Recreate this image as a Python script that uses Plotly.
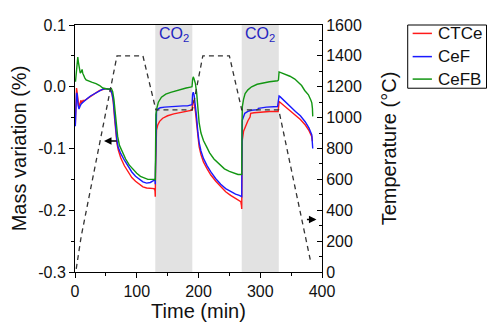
import plotly.graph_objects as go

# ---------------- data ----------------
t_ctce = [0.5, 1.5, 2.5, 3.5, 5, 6.5, 8, 9.5, 11, 13, 16, 20, 25, 30, 35, 40, 45, 50, 55, 58, 60, 62, 64, 66, 68, 70, 74, 80, 86, 92, 98, 104, 110, 116, 122, 128, 129.5, 130,
          130.5, 131, 132, 134, 137, 142, 150, 160, 170, 180, 188, 189.5, 190.5, 191.5, 193, 195, 197, 199, 201, 204, 208, 214, 220, 228, 236, 244, 252, 260, 266, 268.5, 269.5, 270,
          270.5, 271, 273, 275.5, 280, 283.5, 284.5, 290, 300, 315, 329, 330.5, 332, 340, 348, 357, 365, 373, 379, 383.5, 384.5]
m_ctce = [-0.062, -0.03, -0.002, -0.01, -0.028, -0.034, -0.028, -0.022, -0.026, -0.022, -0.022, -0.019, -0.015, -0.012, -0.009, -0.006, -0.004, -0.003, -0.004, -0.006, -0.012, -0.025, -0.05, -0.075, -0.092, -0.102, -0.115, -0.128, -0.138, -0.147, -0.153, -0.158, -0.162, -0.164, -0.165, -0.165, -0.168, -0.178,
          -0.13, -0.085, -0.07, -0.062, -0.056, -0.051, -0.047, -0.044, -0.042, -0.040, -0.039, -0.038, -0.025, -0.022, -0.028, -0.04, -0.06, -0.082, -0.097, -0.11, -0.122, -0.133, -0.143, -0.153, -0.162, -0.170, -0.176, -0.181, -0.184, -0.186, -0.192, -0.198,
          -0.12, -0.086, -0.072, -0.065, -0.055, -0.049, -0.043, -0.042, -0.041, -0.040, -0.040, -0.024, -0.025, -0.032, -0.039, -0.046, -0.053, -0.062, -0.071, -0.081, -0.088]

t_cef = [0.5, 1.5, 2.5, 3.5, 5, 6.5, 8, 10, 13, 16, 20, 25, 30, 35, 40, 45, 50, 55, 58, 60, 62, 64, 66, 68, 70, 74, 80, 86, 92, 98, 104, 110, 116, 122, 127, 129.5, 130,
         130.5, 131, 132, 134, 138, 145, 155, 165, 175, 182, 188, 189.5, 190.5, 191.5, 193, 195, 197, 199, 201, 204, 208, 214, 220, 228, 236, 244, 252, 260, 266, 269.5, 270,
         270.5, 271, 275, 280, 286, 296, 297, 310, 328, 330.5, 332, 340, 348, 357, 365, 373, 379, 383.5, 385]
m_cef = [-0.064, -0.035, -0.010, -0.012, -0.030, -0.036, -0.032, -0.028, -0.025, -0.023, -0.019, -0.015, -0.012, -0.009, -0.006, -0.004, -0.003, -0.004, -0.006, -0.011, -0.022, -0.045, -0.07, -0.088, -0.098, -0.108, -0.119, -0.129, -0.138, -0.145, -0.150, -0.154, -0.156, -0.155, -0.152, -0.150, -0.158,
         -0.1, -0.05, -0.04, -0.036, -0.034, -0.033, -0.032, -0.032, -0.031, -0.031, -0.030, -0.029, -0.012, -0.009, -0.014, -0.03, -0.05, -0.074, -0.09, -0.104, -0.116, -0.128, -0.138, -0.149, -0.158, -0.165, -0.170, -0.174, -0.176, -0.177, -0.178,
         -0.1, -0.054, -0.043, -0.040, -0.038, -0.037, -0.035, -0.033, -0.032, -0.015, -0.016, -0.024, -0.032, -0.040, -0.047, -0.057, -0.067, -0.078, -0.100]

t_cefb = [0.8, 2, 3.5, 4.5, 5.5, 7, 8.5, 10, 11.5, 12.5, 14, 16, 18, 22, 28, 34, 40, 45, 50, 54, 57, 59, 61, 63, 65, 67, 69, 72, 76, 82, 88, 94, 100, 106, 112, 118, 124, 129.5, 130,
          130.5, 131, 132.5, 135, 140, 147, 155, 163, 171, 180, 187, 189.5, 190.5, 191.5, 193, 195, 197, 199, 201, 204, 208, 213, 218, 225, 234, 242, 250, 258, 264, 269.5, 270,
          270.5, 271, 273, 275.5, 280, 286, 295, 302, 315, 328, 329.5, 330.5, 333, 340, 348, 356, 362, 367, 372, 378, 382, 383.5, 384.5, 385]
m_cefb = [0.008, 0.02, 0.04, 0.048, 0.04, 0.025, 0.022, 0.024, 0.028, 0.022, 0.018, 0.014, 0.011, 0.009, 0.007, 0.005, 0.002, -0.002, -0.003, -0.004, -0.003, -0.003, -0.008, -0.02, -0.04, -0.063, -0.08, -0.095, -0.105, -0.117, -0.127, -0.134, -0.140, -0.145, -0.148, -0.150, -0.150, -0.150, -0.152,
          -0.09, -0.045, -0.035, -0.025, -0.017, -0.012, -0.009, -0.0065, -0.004, -0.002, -0.0005, 0.0, 0.012, 0.016, 0.012, 0.005, -0.01, -0.035, -0.058, -0.075, -0.087, -0.097, -0.107, -0.117, -0.126, -0.133, -0.137, -0.140, -0.142, -0.142, -0.143,
          -0.06, -0.032, -0.02, -0.011, -0.005, 0.0, 0.004, 0.0055, 0.008, 0.0097, 0.011, 0.024, 0.023, 0.021, 0.017, 0.0125, 0.007, 0.002, -0.006, -0.013, -0.022, -0.026, -0.035, -0.048]

t_temp = [2, 10, 68, 110, 131, 190, 207, 250, 270, 330, 382]
temp = [20, 230, 1400, 1400, 1050, 1050, 1400, 1400, 1050, 1050, 60]

series_names = ["CTCe", "CeF", "CeFB"]
series_colors = ["#ff1a1a", "#1a1aff", "#129612"]
co2_windows = [(130, 190), (270, 330)]
x_ticks = [0, 100, 200, 300, 400]
y_ticks = [-0.3, -0.2, -0.1, 0.0, 0.1]
y_ticktext = ["-0.3", "-0.2", "-0.1", "0.0", "0.1"]
y2_ticks = [0, 200, 400, 600, 800, 1000, 1200, 1400, 1600]

FONT = "Arial, Liberation Sans, sans-serif"

fig = go.Figure()
for name, color, tx, my in zip(series_names, series_colors,
                               [t_ctce, t_cef, t_cefb], [m_ctce, m_cef, m_cefb]):
    fig.add_trace(go.Scatter(x=tx, y=my, mode="lines", name=name, showlegend=False,
                             line=dict(color=color, width=1.4)))
fig.add_trace(go.Scatter(x=t_temp, y=temp, mode="lines", yaxis="y2", showlegend=False,
                         name="Temperature",
                         line=dict(color="#333333", width=1.3, dash="5px,4px")))

for x0, x1 in co2_windows:
    fig.add_shape(type="rect", xref="x", yref="paper", x0=x0, x1=x1, y0=0, y1=1,
                  fillcolor="#e2e2e2", line=dict(width=0), layer="below")
    fig.add_annotation(x=(x0 + x1) / 2, y=1.0, xref="x", yref="paper", yanchor="top",
                       yshift=2, text="CO<sub>2</sub>", showarrow=False,
                       font=dict(family=FONT, size=16, color="#2525c0"))

# arrows pointing to the axes
fig.add_annotation(x=47, y=-0.088, xref="x", yref="y", ax=14, ay=0, text="",
                   showarrow=True, arrowhead=2, arrowsize=1, arrowwidth=1.5, arrowcolor="black")
fig.add_annotation(x=391, y=340, xref="x", yref="y2", ax=-11, ay=0, text="",
                   showarrow=True, arrowhead=2, arrowsize=1, arrowwidth=1.5, arrowcolor="black")

# legend box (paper coordinates, outside the plot area on the right)
fig.add_shape(type="rect", xref="paper", yref="paper", x0=1.347, x1=1.666, y0=0.744, y1=1.0,
              line=dict(color="black", width=1), fillcolor="white")
legend_y = [0.966, 0.872, 0.781]
for name, color, ly in zip(series_names, series_colors, legend_y):
    fig.add_shape(type="line", xref="paper", yref="paper", x0=1.367, x1=1.445, y0=ly, y1=ly,
                  line=dict(color=color, width=1.5))
    fig.add_annotation(x=1.462, y=ly, xref="paper", yref="paper", xanchor="left", yanchor="middle",
                       text=name, showarrow=False,
                       font=dict(family=FONT, size=17, color="#111"))

axis_common = dict(showline=True, linecolor="black", linewidth=1, showgrid=False, zeroline=False,
                   tickfont=dict(family=FONT, size=16, color="#111"), ticklen=5, tickcolor="black")

fig.update_layout(
    width=488, height=324,
    margin=dict(l=75, r=166, t=25, b=52, autoexpand=False),
    paper_bgcolor="white", plot_bgcolor="white",
    font=dict(family=FONT, color="#111"),
    showlegend=False,
    xaxis=dict(range=[0, 400], tickvals=x_ticks, ticks="outside", mirror=True,
               minor=dict(dtick=50, ticks="outside", ticklen=3, tickcolor="black"),
               title=dict(text="Time (min)", font=dict(family=FONT, size=20), standoff=4),
               **axis_common),
    yaxis=dict(range=[-0.3, 0.1], tickvals=y_ticks, ticktext=y_ticktext, ticks="outside",
               minor=dict(dtick=0.05, ticks="outside", ticklen=3, tickcolor="black"),
               title=dict(text="Mass variation (%)", font=dict(family=FONT, size=20), standoff=6),
               **axis_common),
    yaxis2=dict(range=[0, 1600], tickvals=y2_ticks, ticks="inside", overlaying="y", side="right",
                minor=dict(dtick=100, ticks="inside", ticklen=3, tickcolor="black"),
                title=dict(text="Temperature (°C)", font=dict(family=FONT, size=20), standoff=21),
                **axis_common),
)

fig.write_html("out.html")
